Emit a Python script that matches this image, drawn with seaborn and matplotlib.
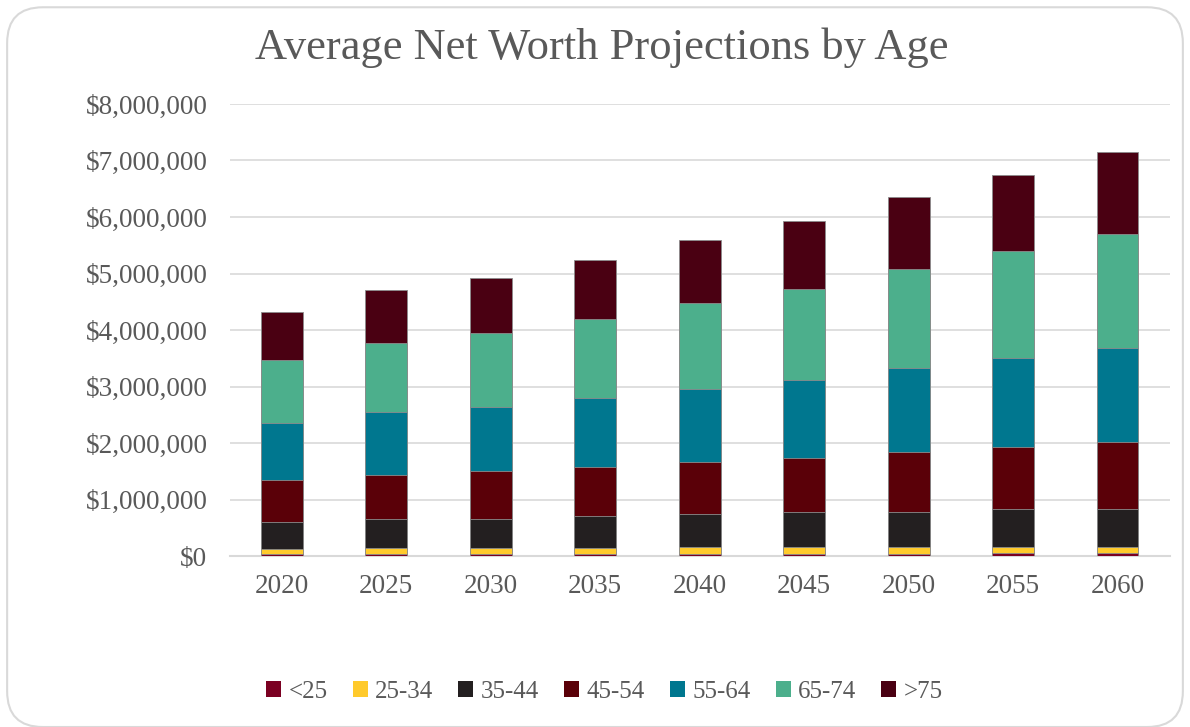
import numpy as np
import pandas as pd
import seaborn as sns
import matplotlib.pyplot as plt
from matplotlib.patches import FancyBboxPatch, Patch
from matplotlib.ticker import FuncFormatter

# data (values in millions of dollars)
years = ['2020', '2025', '2030', '2035', '2040', '2045', '2050', '2055', '2060']
age_groups = ['<25', '25-34', '35-44', '45-54', '55-64', '65-74', '>75']
under_25 = [0.04, 0.04, 0.04, 0.04, 0.04, 0.04, 0.04, 0.05, 0.05]
age_25_34 = [0.09, 0.10, 0.11, 0.11, 0.115, 0.12, 0.12, 0.12, 0.12]
age_35_44 = [0.48, 0.51, 0.51, 0.56, 0.585, 0.62, 0.63, 0.66, 0.67]
age_45_54 = [0.74, 0.78, 0.84, 0.87, 0.92, 0.95, 1.05, 1.10, 1.18]
age_55_64 = [1.00, 1.12, 1.14, 1.22, 1.30, 1.39, 1.49, 1.57, 1.66]
age_65_74 = [1.12, 1.22, 1.31, 1.39, 1.52, 1.61, 1.75, 1.90, 2.02]
over_75 = [0.85, 0.94, 0.97, 1.05, 1.11, 1.20, 1.27, 1.34, 1.45]
colors = ['#7B0022', '#FFCA2C', '#231F20', '#5A0008', '#00778F', '#4CAF8C', '#4A0012']

series = [under_25, age_25_34, age_35_44, age_45_54, age_55_64, age_65_74, over_75]
df = pd.DataFrame({g: np.array(v) * 1e6 for g, v in zip(age_groups, series)})
cum = df[age_groups].cumsum(axis=1)
cum['year'] = years

sns.set_style('white')
plt.rcParams['font.family'] = ['Liberation Serif', 'DejaVu Serif']

fig = plt.figure(figsize=(11.9, 7.27), dpi=100)
ax = fig.add_axes([0.193, 0.235, 0.79, 0.622])

# stacked bars: draw cumulative totals from the top group down
for g, c in reversed(list(zip(age_groups, colors))):
    sns.barplot(data=cum, x='year', y=g, color=c, width=0.4, ax=ax,
                edgecolor='#8c8c8c', linewidth=0.6, saturation=1, zorder=3)

ax.set_ylim(0, 8e6)
ax.set_yticks(np.arange(0, 8.01e6, 1e6))
ax.yaxis.set_major_formatter(FuncFormatter(lambda v, p: '${:,.0f}'.format(v)))
ax.grid(axis='y', color='#D9D9D9', linewidth=1.2, zorder=0)
ax.set_axisbelow(True)
for s in ['left', 'right', 'top']:
    ax.spines[s].set_visible(False)
ax.spines['bottom'].set_color('#D9D9D9')
ax.spines['bottom'].set_linewidth(1.5)
ax.tick_params(axis='both', length=0, labelsize=19.5, labelcolor='#595959')
ax.tick_params(axis='x', pad=13)
ax.tick_params(axis='y', pad=16)
ax.set_xlabel('')
ax.set_ylabel('')

fig.suptitle('Average Net Worth Projections by Age', x=0.506, y=0.934, va='center',
             fontsize=32, color='#595959')

handles = [Patch(facecolor=c, edgecolor='none') for c in colors]
fig.legend(handles, age_groups, loc='center', bbox_to_anchor=(0.508, 0.048),
           ncol=7, frameon=False, fontsize=18, handlelength=0.6, handleheight=0.6,
           handletextpad=0.3, columnspacing=1.0, labelcolor='#595959')

border = FancyBboxPatch((0.006, 0.0), 0.988, 0.99, boxstyle='round,pad=0,rounding_size=0.03',
                        transform=fig.transFigure, facecolor='none', edgecolor='#D9D9D9',
                        linewidth=1.5, mutation_aspect=1190 / 727)
fig.patches.append(border)

fig.savefig('out.png', dpi=100)
